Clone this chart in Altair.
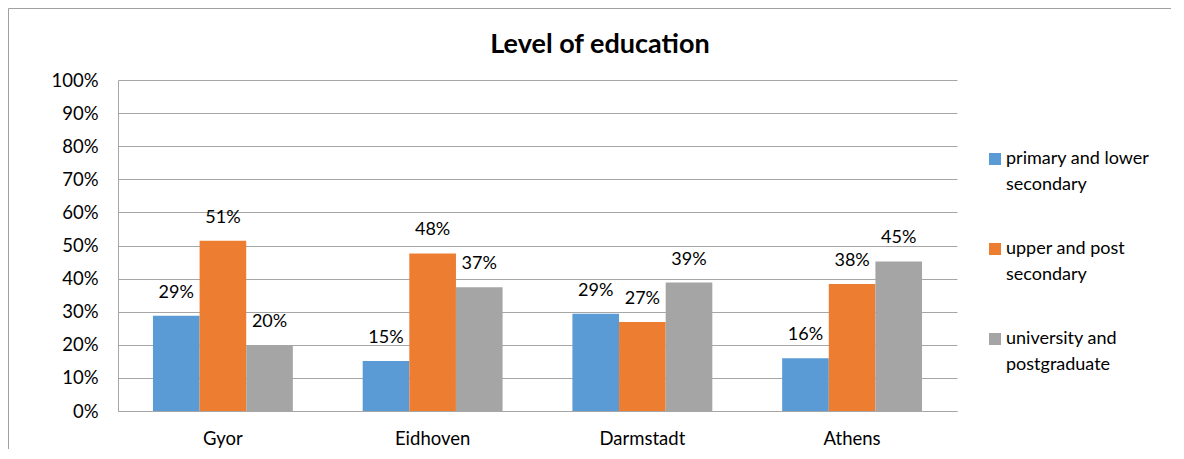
import altair as alt
import pandas as pd

# ---- data ----
title_text = "Level of education"
cities = ["Gyor", "Eidhoven", "Darmstadt", "Athens"]
levels = ["primary and lower secondary", "upper and post secondary", "university and postgraduate"]
legend_lines = [["primary and lower", "secondary"], ["upper and post", "secondary"], ["university and", "postgraduate"]]
primary = [28.8, 15.1, 29.4, 15.9]
upper = [51.4, 47.6, 26.9, 38.4]
university = [19.9, 37.4, 38.8, 45.2]
y_ticks = list(range(0, 101, 10))

colors = ["#5B9BD5", "#ED7D31", "#A5A5A5"]
FONT = "Lato"
GRID = "#a6a6a6"

rows = []
for lvl, vals in zip(levels, [primary, upper, university]):
    for c, v in zip(cities, vals):
        rows.append({"city": c, "level": lvl, "value": v})
df = pd.DataFrame(rows)

legend_df = pd.DataFrame({"level": levels, "lines": legend_lines})

x = alt.X("city:N", sort=cities,
          scale=alt.Scale(paddingInner=0.333, paddingOuter=0.1667),
          axis=alt.Axis(title=None, labelAngle=0, ticks=False, grid=False,
                        labelFontSize=18.5, labelPadding=18, domainColor=GRID))
xo = alt.XOffset("level:N", sort=levels, scale=alt.Scale(paddingInner=0, paddingOuter=0))
y = alt.Y("value:Q", scale=alt.Scale(domain=[0, 100]),
          axis=alt.Axis(title=None, values=y_ticks, labelExpr="datum.value + '%'",
                        ticks=False, grid=True, gridColor=GRID, domainColor=GRID,
                        labelFontSize=18.5, labelPadding=20))
color = alt.Color("level:N", sort=levels,
                  scale=alt.Scale(domain=levels, range=colors), legend=None)

bars = alt.Chart(df).mark_bar().encode(x=x, xOffset=xo, y=y, color=color)
labels = alt.Chart(df).transform_calculate(
    lab="format(datum.value, '.0f') + '%'"
).mark_text(dy=-23, baseline="middle", fontSize=18, font=FONT, color="black").encode(
    x=x, xOffset=xo, y=y, text="lab:N")
main = alt.layer(bars, labels)

ly = alt.Y("level:N", sort=levels,
           scale=alt.Scale(type="point", range=[79, 259], padding=0), axis=None)
leg_sq = alt.Chart(legend_df).mark_square(size=144, opacity=1).encode(
    x=alt.value(877), y=ly, color=color)
leg_txt = alt.Chart(legend_df).mark_text(
    align="left", baseline="middle", fontSize=18, font=FONT, lineHeight=26,
    color="black").encode(x=alt.value(888), y=ly, text="lines")
legend = alt.layer(leg_sq, leg_txt)

title = alt.Chart(pd.DataFrame({"t": [title_text]})).mark_text(
    font=FONT, fontSize=27, fontWeight="bold", baseline="alphabetic",
    align="center", color="black").encode(
    x=alt.value(482), y=alt.value(-27), text="t:N")

one = pd.DataFrame({"a": [0]})
frame_left = alt.Chart(one).mark_rule(color="#a0a0a0", strokeWidth=1).encode(
    x=alt.value(-109.5), y=alt.value(-71.5), y2=alt.value(420))
frame_top = alt.Chart(one).mark_rule(color="#a0a0a0", strokeWidth=1).encode(
    x=alt.value(-109.5), x2=alt.value(1053), y=alt.value(-71.5))

chart = alt.layer(frame_left, frame_top, title, main, legend).resolve_scale(y="independent").properties(
    width=839, height=331,
    padding={"left": 110, "top": 72, "right": 215, "bottom": 38},
    autosize=alt.AutoSizeParams(type="none"),
).configure_view(stroke=None).configure_axis(
    labelFont=FONT, labelColor="black"
)

chart.save("out.html", embed_options={"renderer": "svg", "actions": False})
